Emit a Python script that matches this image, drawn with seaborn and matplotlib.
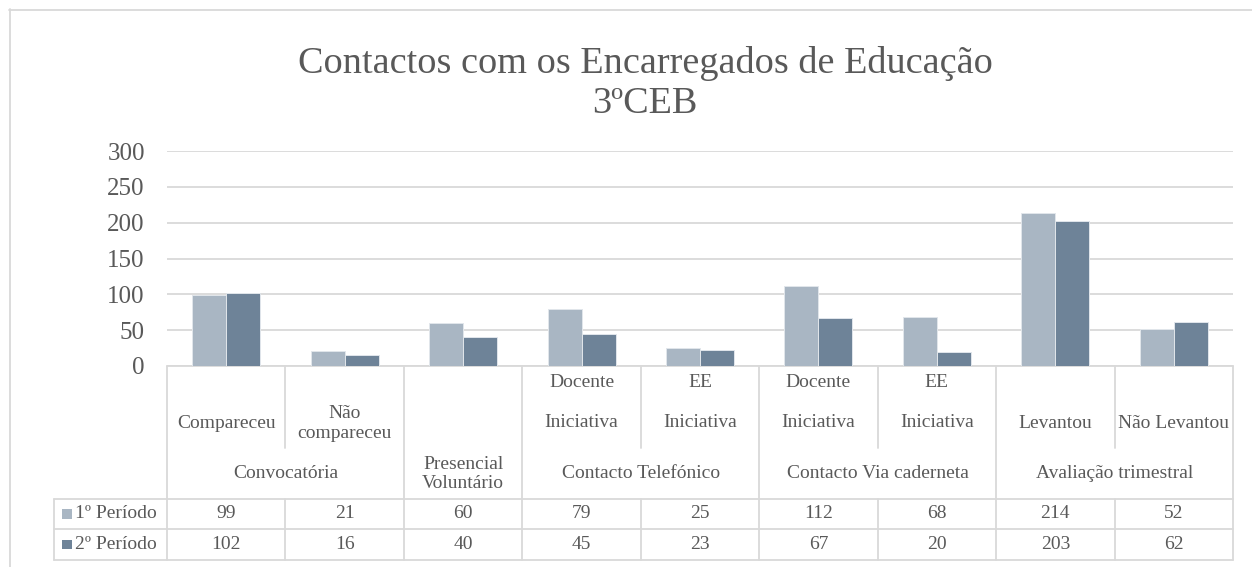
import numpy as np
import pandas as pd
import matplotlib
matplotlib.use("Agg")
import matplotlib.pyplot as plt
from matplotlib.patches import Rectangle
from matplotlib.lines import Line2D
from matplotlib.transforms import blended_transform_factory
import seaborn as sns

# ---- data -------------------------------------------------------------
groups = [
    "Convocatória", "Convocatória",
    "Presencial\nVoluntário",
    "Contacto Telefónico", "Contacto Telefónico",
    "Contacto Via caderneta", "Contacto Via caderneta",
    "Avaliação trimestral", "Avaliação trimestral",
]
subcategories = [
    "Compareceu", "Não\ncompareceu",
    "",
    "Docente\n\nIniciativa", "EE\n\nIniciativa",
    "Docente\n\nIniciativa", "EE\n\nIniciativa",
    "Levantou", "Não Levantou",
]
periods = ["1º Período", "2º Período"]
period_1 = [99, 21, 60, 79, 25, 112, 68, 214, 52]
period_2 = [102, 16, 40, 45, 23, 67, 20, 203, 62]
y_ticks = [0, 50, 100, 150, 200, 250, 300]
title = "Contactos com os Encarregados de Educação"
subtitle = "3ºCEB"

# ---- style ------------------------------------------------------------
W, H = 1252, 567
sns.set_theme(style="white")
plt.rcParams["font.family"] = ["Liberation Serif", "DejaVu Serif"]

TEXT = "#595959"
GRID = "#d9d9d9"
palette = ["#a9b6c3", "#6e8398"]

keys = [f"{g}|{s}" for g, s in zip(groups, subcategories)]
df = pd.DataFrame({
    "key": keys * 2,
    "period": np.repeat(periods, len(keys)),
    "value": period_1 + period_2,
})


def fx(px):
    return px / W


def fy(py):
    return 1 - py / H


fig = plt.figure(figsize=(W / 100, H / 100), dpi=100)
fig.patch.set_facecolor("white")
ax = fig.add_axes([fx(167), fy(366), fx(1233) - fx(167), fy(151) - fy(366)])

sns.barplot(
    data=df, x="key", y="value", hue="period",
    order=keys, hue_order=periods, palette=palette,
    width=0.574, gap=0, saturation=1,
    edgecolor="#e1e6eb", linewidth=0.7,
    legend=False, ax=ax, zorder=3,
)

ax.set_xlim(-0.5, len(keys) - 0.5)
ax.set_ylim(0, 300)
ax.set_yticks(y_ticks)
ax.set_xticks([])
ax.set_xlabel("")
ax.set_ylabel("")
ax.yaxis.grid(True, color=GRID, linewidth=1.3)
ax.set_axisbelow(True)
for sp in ax.spines.values():
    sp.set_visible(False)
ax.tick_params(axis="y", length=0, pad=16, labelsize=18, labelcolor=TEXT)

# ---- data table beneath the bars -------------------------------------
tr = blended_transform_factory(ax.transData, fig.transFigure)
line_kw = dict(color=GRID, linewidth=1.3, clip_on=False)

ROW_TOP, ROW_MID, ROW_BOT = 499, 529, 560
SUB_END = 448
TABLE_TOP = 366
x_right = ax.get_position().x1
x_label_left = fx(54)

for py in (ROW_TOP, ROW_MID, ROW_BOT):
    fig.add_artist(Line2D([x_label_left, x_right], [fy(py), fy(py)], **line_kw))
fig.add_artist(Line2D([x_label_left, x_label_left], [fy(ROW_TOP), fy(ROW_BOT)], **line_kw))
ax.plot([-0.5, len(keys) - 0.5], [fy(TABLE_TOP)] * 2, transform=tr, **line_kw)

n = len(keys)
for i in range(n + 1):
    b = i - 0.5
    full = i == 0 or i == n or groups[i - 1] != groups[i]
    if full:
        ax.plot([b, b], [fy(TABLE_TOP), fy(ROW_BOT)], transform=tr, **line_kw)
    else:
        ax.plot([b, b], [fy(TABLE_TOP), fy(SUB_END)], transform=tr, **line_kw)
        ax.plot([b, b], [fy(ROW_TOP), fy(ROW_BOT)], transform=tr, **line_kw)

txt_kw = dict(color=TEXT, fontsize=14, ha="center", va="center", transform=tr)

# sub-category labels
for i, s in enumerate(subcategories):
    if not s:
        continue
    y = 402.5 if s.count("\n") >= 2 else 423.5
    ax.text(i, fy(y), s, linespacing=1.22, **txt_kw)

# group labels
start = 0
for i in range(1, n + 1):
    if i == n or groups[i] != groups[start]:
        ax.text((start + i - 1) / 2, fy(474), groups[start], linespacing=1.22, **txt_kw)
        start = i

# series rows
row_centres = [514, 544.5]
for name, vals, col, yc in zip(periods, [period_1, period_2], palette, row_centres):
    fig.add_artist(Rectangle((fx(62), fy(yc + 4.5)), fx(9.5), 9.5 / H,
                             facecolor=col, edgecolor="none",
                             transform=fig.transFigure))
    fig.text(fx(75), fy(yc), name, color=TEXT, fontsize=14, ha="left", va="center")
    for i, v in enumerate(vals):
        ax.text(i, fy(yc), f"{v}", **txt_kw)

# ---- title ------------------------------------------------------------
fig.text(fx(645), fy(73), title, color=TEXT, fontsize=27.5, ha="center", va="baseline")
fig.text(fx(645), fy(113), subtitle, color=TEXT, fontsize=27.5, ha="center", va="baseline")

# chart frame
fig.add_artist(Line2D([fx(9.5), fx(9.5)], [fy(9), 0], color=GRID, linewidth=1.3))
fig.add_artist(Line2D([fx(9), 1], [fy(9.5), fy(9.5)], color=GRID, linewidth=1.3))

fig.savefig("out.png", dpi=100, facecolor="white")
